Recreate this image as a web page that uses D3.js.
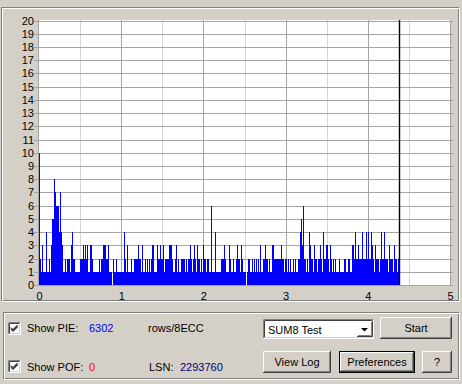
<!DOCTYPE html>
<html>
<head>
<meta charset="utf-8">
<script src="https://cdn.jsdelivr.net/npm/d3@7"></script>
<style>
  html, body { margin: 0; padding: 0; background: #d4d0c8; }
  svg { display: block; font-family: "Liberation Sans", Arial, sans-serif; font-size: 11px; }
</style>
</head>
<body>
<svg id="canvas"></svg>
<script>
// PIE errors per sample (one sample ~ one ECC block group)
let pie = [
  10,2,1,3,1,1,1,4,1,1, 2,1,3,5,5,8,7,6,6,6,
  4,7,4,3,1,1,2,1,2,2, 2,1,3,4,2,2,1,1,1,1,
  1,2,2,2,3,2,3,2,3,1, 1,3,3,2,1,1,1,1,1,1,
  2,1,2,2,3,3,3,2,2,3, 1,1,1,0,2,1,1,2,1,1,
  1,1,1,1,1,4,2,1,3,1, 1,1,2,1,1,2,2,2,2,3,
  2,2,1,3,1,1,2,1,2,1, 2,1,2,3,3,1,1,1,3,2,
  2,3,2,2,3,1,2,2,2,2, 3,3,3,2,1,1,2,3,1,2,
  1,1,2,2,2,2,1,2,1,2, 2,3,2,1,2,3,2,1,3,2,
  2,1,2,1,3,2,2,1,2,2, 1,1,6,1,1,1,4,1,1,1,
  1,1,2,2,2,3,2,1,1,1, 3,2,1,1,2,1,1,2,3,2,
  2,1,3,2,1,1,1,0,1,2, 2,1,1,2,1,2,1,2,1,2,
  1,3,1,1,2,2,3,2,2,1, 2,1,1,3,3,2,2,2,2,2,
  2,2,3,2,2,1,2,2,1,2, 1,2,1,1,2,1,2,1,1,2,
  2,4,5,3,6,2,2,1,2,1, 4,3,2,2,1,3,2,2,1,2,
  2,3,2,1,4,2,2,3,3,2, 1,3,2,1,2,1,2,1,1,1,
  2,1,1,1,1,2,2,1,1,2, 2,1,1,3,3,2,4,2,2,3,
  2,2,2,4,2,2,2,4,2,4, 2,2,4,3,2,1,3,2,2,2,
  1,2,4,2,2,4,2,2,2,1, 3,2,2,2,1,3,2,2,1,2
];
let discEnd = 4.375;              // GB, where the scan stopped (black marker)
let sampleStep = discEnd / pie.length;
let xTicks = [0, 1, 2, 3, 4, 5];
let xMinor = [0.5, 1.5, 2.5, 3.5, 4.5];
let yTicks = [0,1,2,3,4,5,6,7,8,9,10,11,12,13,14,15,16,17,18,19,20];
let pieTotal = "6302";
let pofTotal = "0";
let lsn = "2293760";
let testName = "SUM8 Test";

let W = 462, H = 384;
let svg = d3.select('#canvas').attr("width", W).attr("height", H);

// etched group frames
function etched(x, y, w, h) {
  svg.append("rect").attr("x", x + 0.5).attr("y", y + 0.5).attr("width", w - 1).attr("height", h - 1)
    .attr("fill", "none").attr("stroke", "#808080");
  svg.append("rect").attr("x", x + 1.5).attr("y", y + 1.5).attr("width", w - 1).attr("height", h - 1)
    .attr("fill", "none").attr("stroke", "#ffffff");
}
etched(1, 7, 458, 294);
etched(3, 312, 456, 67);

// chart
let x = d3.scaleLinear().domain([0, 5]).range([39, 450]);
let y = d3.scaleLinear().domain([0, 20]).range([285, 20.5]);
let px = v => Math.round(v) + 0.5;

svg.append("rect").attr("x", 39).attr("y", 20).attr("width", 411).attr("height", 265).attr("fill", "#ffffff");

svg.selectAll(".vminor").data(xMinor).enter().append("line")
  .attr("x1", d => px(x(d))).attr("x2", d => px(x(d)))
  .attr("y1", 20).attr("y2", 285).attr("stroke", "#d6d6d6");

svg.selectAll(".hgrid").data(yTicks).enter().append("line")
  .attr("x1", 34).attr("x2", 453)
  .attr("y1", d => px(y(d))).attr("y2", d => px(y(d))).attr("stroke", "#a4a4a4");

svg.selectAll(".vmajor").data(xTicks).enter().append("line")
  .attr("x1", d => px(x(d)) - (d === 0 ? 1 : 0)).attr("x2", d => px(x(d)) - (d === 0 ? 1 : 0))
  .attr("y1", 20).attr("y2", 285).attr("stroke", "#a4a4a4");

// PIE bars as a step area
let pts = pie.map((v, i) => [i * sampleStep, v]);
pts.push([pie.length * sampleStep, pie[pie.length - 1]]);
let area = d3.area()
  .x(d => x(d[0]))
  .y0(285)
  .y1(d => y(d[1]))
  .curve(d3.curveStepAfter);
svg.append("path").datum(pts).attr("d", area)
  .attr("fill", "#0000ff").attr("shape-rendering", "crispEdges");

// end-of-scan marker
svg.append("line")
  .attr("x1", px(x(discEnd))).attr("x2", px(x(discEnd)))
  .attr("y1", 20).attr("y2", 285).attr("stroke", "#000000").attr("stroke-width", 1.4);

// axis labels
svg.selectAll(".ylab").data(yTicks).enter().append("text")
  .attr("x", 34).attr("y", d => y(d) + 4)
  .attr("text-anchor", "end").attr("fill", "#000").text(d => d);

svg.selectAll(".xlab").data(xTicks).enter().append("text")
  .attr("x", d => x(d) + 0.5).attr("y", 299.5)
  .attr("text-anchor", "middle").attr("fill", "#000").text(d => d);

// controls
function checkbox(cx, cy) {
  let g = svg.append("g").attr("transform", "translate(" + cx + "," + cy + ")");
  g.append("rect").attr("x", 0).attr("y", 0).attr("width", 13).attr("height", 13).attr("fill", "#ffffff");
  g.append("path").attr("d", "M0.5,12.5V0.5H12.5").attr("stroke", "#808080").attr("fill", "none");
  g.append("path").attr("d", "M1.5,11.5V1.5H11.5").attr("stroke", "#404040").attr("fill", "none");
  g.append("path").attr("d", "M0.5,12.5H12.5V0.5").attr("stroke", "#ffffff").attr("fill", "none");
  g.append("path").attr("d", "M1.5,11.5H11.5V1.5").attr("stroke", "#d4d0c8").attr("fill", "none");
  g.append("path").attr("d", "M3,5.5L5,7.5L9.5,3 M3,6.5L5,8.5L9.5,4 M3,7.5L5,9.5L9.5,5")
    .attr("stroke", "#000").attr("fill", "none");
}
function button(bx, by, bw, bh, label, isDefault) {
  let g = svg.append("g").attr("transform", "translate(" + bx + "," + by + ")");
  let o = 0;
  if (isDefault) {
    g.append("rect").attr("x", 0.5).attr("y", 0.5).attr("width", bw - 1).attr("height", bh - 1)
      .attr("fill", "none").attr("stroke", "#000");
    o = 1;
  }
  g.append("path").attr("d", "M" + (o + 0.5) + "," + (bh - o - 1) + "V" + (o + 0.5) + "H" + (bw - o - 1))
    .attr("stroke", "#ffffff").attr("fill", "none");
  g.append("path").attr("d", "M" + (o) + "," + (bh - o - 0.5) + "H" + (bw - o - 0.5) + "V" + o)
    .attr("stroke", "#404040").attr("fill", "none");
  g.append("path").attr("d", "M" + (o + 1) + "," + (bh - o - 1.5) + "H" + (bw - o - 1.5) + "V" + (o + 1))
    .attr("stroke", "#808080").attr("fill", "none");
  g.append("text").attr("x", bw / 2).attr("y", bh / 2 + 4).attr("text-anchor", "middle")
    .attr("fill", "#000").text(label);
}

checkbox(8, 322);
checkbox(8, 360);

svg.append("text").attr("x", 27).attr("y", 332).text("Show PIE:");
svg.append("text").attr("x", 89).attr("y", 332).attr("fill", "#0000ff").text(pieTotal);
svg.append("text").attr("x", 148).attr("y", 332).text("rows/8ECC");
svg.append("text").attr("x", 27).attr("y", 371).text("Show POF:");
svg.append("text").attr("x", 89).attr("y", 371).attr("fill", "#ff0000").text(pofTotal);
svg.append("text").attr("x", 149).attr("y", 371).text("LSN:");
svg.append("text").attr("x", 180).attr("y", 371).attr("fill", "#000080").text(lsn);

// combo box
let cb = svg.append("g").attr("transform", "translate(263,319)");
cb.append("rect").attr("x", 0).attr("y", 0).attr("width", 111).attr("height", 20).attr("fill", "#ffffff");
cb.append("path").attr("d", "M0.5,19.5V0.5H110.5").attr("stroke", "#808080").attr("fill", "none");
cb.append("path").attr("d", "M1.5,18.5V1.5H109.5").attr("stroke", "#404040").attr("fill", "none");
cb.append("path").attr("d", "M0.5,19.5H110.5V0.5").attr("stroke", "#ffffff").attr("fill", "none");
cb.append("path").attr("d", "M1.5,18.5H109.5V1.5").attr("stroke", "#d4d0c8").attr("fill", "none");
cb.append("text").attr("x", 5).attr("y", 15).text(testName);
button(357, 321, 16, 16, "", false);
svg.append("path").attr("d", "M361,328H368L364.5,331.5Z").attr("fill", "#000");

button(380, 317, 72, 22, "Start", false);
button(263, 351, 68, 22, "View Log", false);
button(339, 351, 76, 22, "Preferences", true);
button(422, 351, 30, 22, "?", false);
</script>
</body>
</html>
